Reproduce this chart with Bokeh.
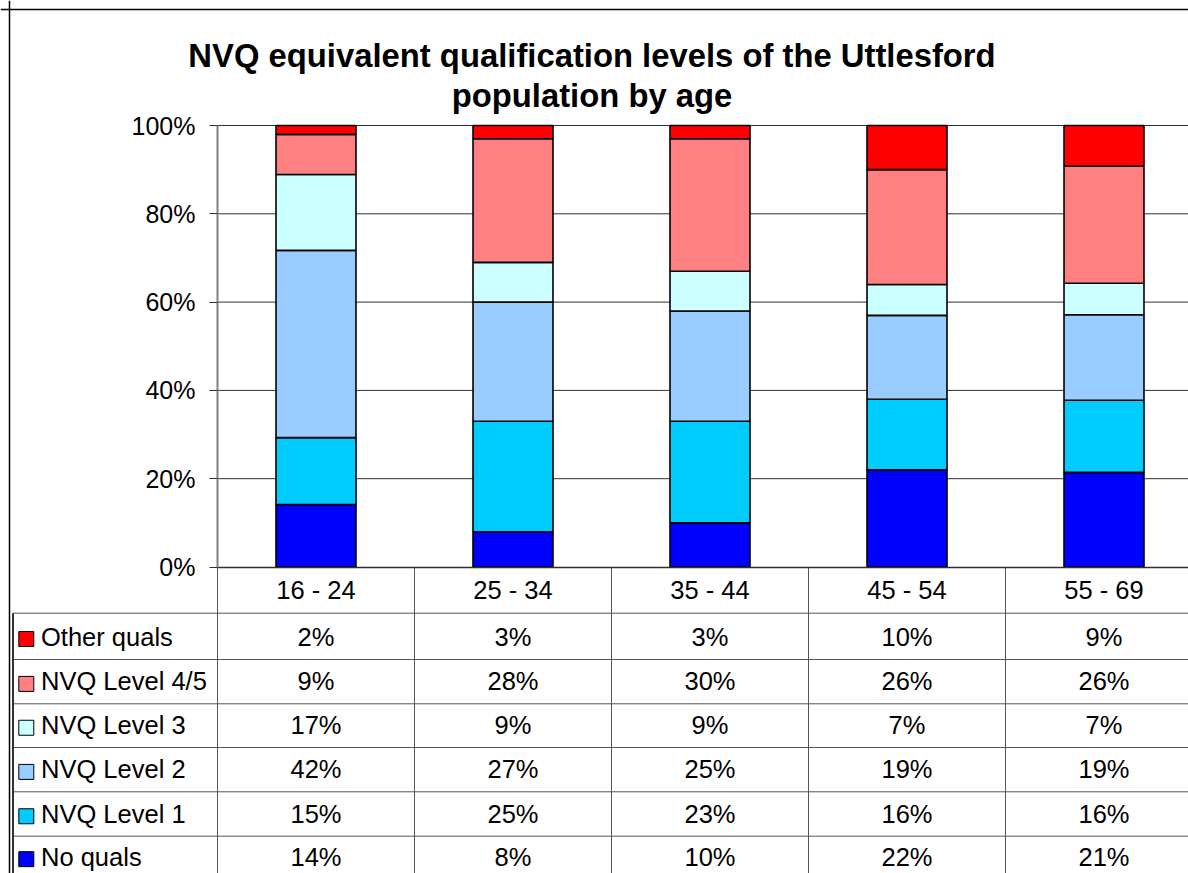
import math
from bokeh.plotting import figure
from bokeh.models import Range1d, LinearAxis, FixedTicker, Span, ColumnDataSource
from bokeh.core.properties import value
from bokeh.embed import file_html
from bokeh.resources import INLINE

# ---------------- data ----------------
categories = ["16 - 24", "25 - 34", "35 - 44", "45 - 54", "55 - 69"]
no_quals = [14, 8, 10, 22, 21]
nvq_level_1 = [15, 25, 23, 16, 16]
nvq_level_2 = [42, 27, 25, 19, 19]
nvq_level_3 = [17, 9, 9, 7, 7]
nvq_level_45 = [9, 28, 30, 26, 26]
other_quals = [2, 3, 3, 10, 9]
series_names = ["No quals", "NVQ Level 1", "NVQ Level 2", "NVQ Level 3", "NVQ Level 4/5", "Other quals"]
series_colors = ["#0000FF", "#00CCFF", "#99CCFF", "#CCFFFF", "#FF8080", "#FF0000"]
y_ticks = [0, 20, 40, 60, 80, 100]
y_tick_labels = ["0%", "20%", "40%", "60%", "80%", "100%"]
title_lines = ["NVQ equivalent qualification levels of the Uttlesford", "population by age"]

# ---------------- layout (page pixels) ----------------
W, H = 1188, 873
AXIS_PX = 217.0     # page x of value axis
CAT_PX = 197.0      # px per category
ZERO_PX = 566.5     # page y of 0 %
UNIT_PX = 4.415     # px per percent
ROW_BOUNDS = [612.7, 659.0, 703.3, 747.0, 791.3, 835.7, 878.0]
TEXT_SHIFT = 10.0   # correction for text glyph baseline placement
FONT = "Liberation Sans"
FS = "25.5px"


def ux(px):
    return (px - AXIS_PX) / CAT_PX


def vy(py):
    return (ZERO_PX - py) / UNIT_PX


p = figure(width=W, height=H, output_backend="svg", toolbar_location=None,
           x_range=Range1d(ux(0), ux(W)),
           y_range=Range1d(vy(H), vy(0)),
           x_axis_type=None, y_axis_type=None, min_border=0)
p.outline_line_color = None
p.background_fill_color = "white"
p.border_fill_color = "white"

# gridlines
p.ray(x=0, y=y_ticks[1:], length=0, angle=0, line_color="#303030", line_width=1)

# stacked 100% bars
series_values = [no_quals, nvq_level_1, nvq_level_2, nvq_level_3, nvq_level_45, other_quals]
totals = [sum(col) for col in zip(*series_values)]
keys = ["s%d" % i for i in range(len(series_names))]
data = {"x": [i + 0.5 for i in range(len(categories))]}
for k, vals in zip(keys, series_values):
    data[k] = [v / t * 100.0 for v, t in zip(vals, totals)]
src = ColumnDataSource(data)
p.vbar_stack(keys, x="x", width=0.406, fill_color=series_colors,
             line_color="black", line_width=1.6, source=src)

# table lines
p.ray(x=ux(12.5), y=[vy(b) for b in ROW_BOUNDS[:-1]], length=0, angle=0,
      line_color="#555555", line_width=1)
p.ray(x=list(range(len(categories))), y=0, length=0, angle=-math.pi / 2,
      line_color="#555555", line_width=1)
p.ray(x=ux(12.5), y=vy(ROW_BOUNDS[0]), length=0, angle=-math.pi / 2,
      line_color="#333333", line_width=2)

# axes
yaxis = LinearAxis(fixed_location=0, bounds=(0, 100), ticker=FixedTicker(ticks=y_ticks),
                   major_label_overrides={t: l for t, l in zip(y_ticks, y_tick_labels)},
                   axis_line_color="#808080", axis_line_width=2,
                   major_tick_out=8, major_tick_in=0, minor_tick_out=0, minor_tick_in=0,
                   major_tick_line_color="#303030", major_label_standoff=14,
                   major_label_text_font=FONT, major_label_text_font_size="25px",
                   major_label_text_color="black")
p.add_layout(yaxis, "left")

xaxis = LinearAxis(fixed_location=0, bounds=(0, ux(W)),
                   ticker=FixedTicker(ticks=[i + 0.5 for i in range(len(categories))]),
                   major_label_overrides={i + 0.5: c for i, c in enumerate(categories)},
                   axis_line_color="#303030", axis_line_width=1.5,
                   major_tick_out=0, major_tick_in=0, minor_tick_out=0, minor_tick_in=0,
                   major_label_standoff=9,
                   major_label_text_font=FONT, major_label_text_font_size=FS,
                   major_label_text_color="black")
p.add_layout(xaxis, "below")

# chart border (top and left visible)
p.add_layout(Span(location=vy(9.0), dimension="width", line_color="black", line_width=1.5))
p.add_layout(Span(location=ux(9.0), dimension="height", line_color="black", line_width=1.5))

# table contents
rows = list(range(len(series_names)))[::-1]
for r, si in enumerate(rows):
    top, bot = ROW_BOUNDS[r], ROW_BOUNDS[r + 1]
    base = top + 0.72 * (bot - top)
    p.scatter(x=[ux(25.8)], y=[vy(base - 7.5)], marker="square", size=15,
              fill_color=series_colors[si], line_color="black", line_width=1)
    p.text(x=[ux(40.5)], y=[vy(base - TEXT_SHIFT)], text=[series_names[si]], text_align="left",
           text_baseline="alphabetic", text_font=value(FONT), text_font_size=FS,
           text_color="black")
    p.text(x=[i + 0.5 for i in range(len(categories))],
           y=[vy(base - TEXT_SHIFT)] * len(categories),
           text=["%d%%" % v for v in series_values[si]], text_align="center",
           text_baseline="alphabetic", text_font=value(FONT), text_font_size=FS,
           text_color="black")

# title
for line, base in zip(title_lines, [65.0, 105.0]):
    p.text(x=[ux(591.5)], y=[vy(base - TEXT_SHIFT)], text=[line], text_align="center",
           text_baseline="alphabetic", text_font=value(FONT), text_font_style="bold",
           text_font_size="32.8px", text_color="black")

open("out.html", "w").write(file_html(p, INLINE))
